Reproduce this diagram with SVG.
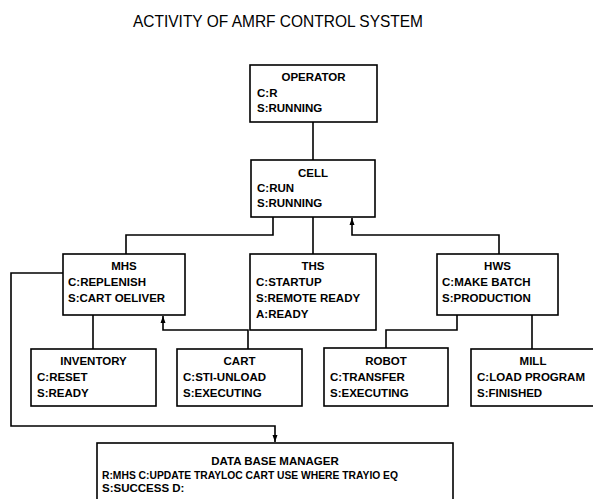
<svg xmlns="http://www.w3.org/2000/svg" width="593" height="499" viewBox="0 0 593 499">
<defs>
<style>
.box{fill:#fff;stroke:#000;stroke-width:1.6}
.t{font-family:"Liberation Sans",Arial,sans-serif;font-size:11.5px;font-weight:bold;fill:#000}
.c{text-anchor:middle}
.title{font-family:"Liberation Sans",Arial,sans-serif;font-size:17px;fill:#000;text-anchor:middle}
.ln{fill:none;stroke:#000;stroke-width:1.6}
</style>
<marker id="ah" markerWidth="8" markerHeight="8" refX="7" refY="4" orient="auto" markerUnits="userSpaceOnUse">
<path d="M0,1.5 L7,4 L0,6.5 Z" fill="#000"/>
</marker>
</defs>
<rect width="593" height="499" fill="#fff"/>
<text class="title" x="278" y="27" textLength="290" lengthAdjust="spacingAndGlyphs">ACTIVITY OF AMRF CONTROL SYSTEM</text>

<g id="connectors">
<path class="ln" d="M313,122 V160"/>
<path class="ln" d="M273,217 V235 H126 V254"/>
<path class="ln" d="M313,217 V254"/>
<path class="ln" d="M499,254 V235 H352 V218" marker-end="url(#ah)"/>
<path class="ln" d="M93,315 V349"/>
<path class="ln" d="M248,349 V330 H163 V316" marker-end="url(#ah)"/>
<path class="ln" d="M457,315 V330 H386 V348"/>
<path class="ln" d="M532,315 V349"/>
<path class="ln" d="M63,273 H11 V426 H275 V442" marker-end="url(#ah)"/>
</g>

<g id="operator">
<rect class="box" x="250" y="65" width="127" height="57"/>
<text class="t c" x="313.5" y="81">OPERATOR</text>
<text class="t" x="257" y="97">C:R</text>
<text class="t" x="257" y="112">S:RUNNING</text>
</g>

<g id="cell">
<rect class="box" x="251" y="160" width="124" height="57"/>
<text class="t c" x="313" y="177">CELL</text>
<text class="t" x="257" y="192">C:RUN</text>
<text class="t" x="257" y="207">S:RUNNING</text>
</g>

<g id="mhs">
<rect class="box" x="63" y="254" width="122" height="61"/>
<text class="t c" x="124" y="270">MHS</text>
<text class="t" x="68" y="286">C:REPLENISH</text>
<text class="t" x="68" y="302">S:CART OELIVER</text>
</g>

<g id="ths">
<rect class="box" x="250" y="254" width="126" height="76"/>
<text class="t c" x="313" y="270">THS</text>
<text class="t" x="256" y="286">C:STARTUP</text>
<text class="t" x="256" y="302">S:REMOTE READY</text>
<text class="t" x="256" y="318">A:READY</text>
</g>

<g id="hws">
<rect class="box" x="437" y="254" width="121" height="61"/>
<text class="t c" x="497.5" y="270">HWS</text>
<text class="t" x="442" y="286">C:MAKE BATCH</text>
<text class="t" x="442" y="302">S:PRODUCTION</text>
</g>

<g id="inventory">
<rect class="box" x="31" y="349" width="125" height="57"/>
<text class="t c" x="93.5" y="365">INVENTORY</text>
<text class="t" x="37" y="381">C:RESET</text>
<text class="t" x="37" y="397">S:READY</text>
</g>

<g id="cart">
<rect class="box" x="177" y="349" width="125" height="57"/>
<text class="t c" x="239.5" y="365">CART</text>
<text class="t" x="183" y="381">C:STI-UNLOAD</text>
<text class="t" x="183" y="397">S:EXECUTING</text>
</g>

<g id="robot">
<rect class="box" x="324" y="348" width="124" height="58"/>
<text class="t c" x="386" y="365">ROBOT</text>
<text class="t" x="330" y="381">C:TRANSFER</text>
<text class="t" x="330" y="397">S:EXECUTING</text>
</g>

<g id="mill">
<rect class="box" x="471" y="349" width="125" height="57"/>
<text class="t c" x="533" y="365">MILL</text>
<text class="t" x="477" y="381">C:LOAD PROGRAM</text>
<text class="t" x="477" y="397">S:FINISHED</text>
</g>

<g id="dbm">
<rect class="box" x="97" y="443" width="356" height="70"/>
<text class="t c" x="275" y="465">DATA BASE MANAGER</text>
<text class="t" x="102" y="479" textLength="296" lengthAdjust="spacingAndGlyphs">R:MHS  C:UPDATE TRAYLOC CART USE WHERE TRAYIO EQ</text>
<text class="t" x="102" y="492">S:SUCCESS  D:</text>
</g>
</svg>
